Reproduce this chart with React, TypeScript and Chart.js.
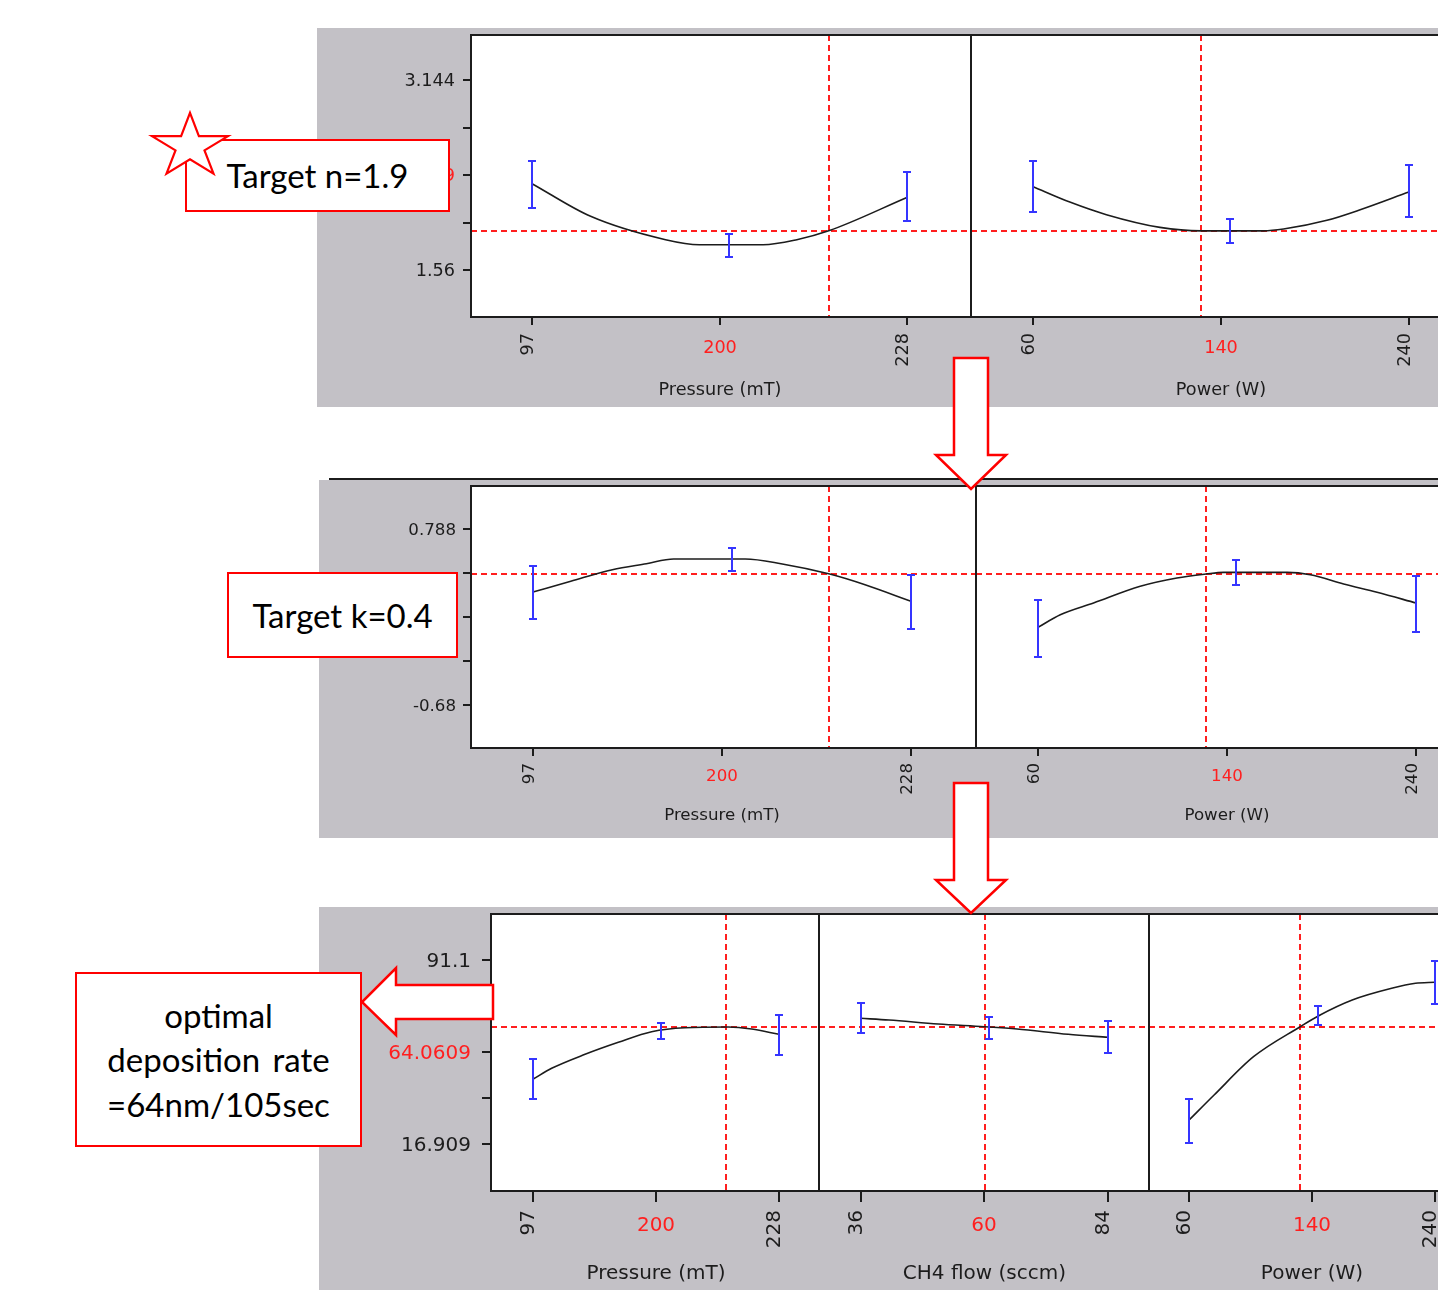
import React, { useEffect, useRef } from "react";
import { Chart, registerables } from "chart.js";
Chart.register(...registerables);

// ---------------- data (x in coded factor units: -1 = low, 0 = centre, 1 = high) ----------------
const pressureTicks = ["97", "200", "228"];
const powerTicks = ["60", "140", "240"];
const ch4Ticks = ["36", "60", "84"];

// Panel 1 : refractive index n
const nAxisLabels = ["3.144", "1.56"];
const nAxisTicks = [3.144, 2.748, 2.352, 1.956, 1.56];
const nPredicted = 1.889;
const nPredictedLabel = "1.8889";
const nPressX = [-1, -0.69, -0.29, -0.11, 0.23, 0.41, 0.58, 1];
const nPressY = [2.28, 2.01, 1.815, 1.773, 1.773, 1.815, 1.889, 2.169];
const nPressBarX = [-1, 0.05, 1];
const nPressBarLo = [2.077, 1.668, 1.973];
const nPressBarHi = [2.469, 1.863, 2.379];
const nPowerX = [-1, -0.805, -0.61, -0.325, -0.107, 0.226, 0.333, 0.564, 0.741, 1];
const nPowerY = [2.257, 2.129, 2.024, 1.918, 1.889, 1.889, 1.904, 1.977, 2.065, 2.213];
const nPowerBarX = [-1, 0.048, 1];
const nPowerBarLo = [2.049, 1.788, 2.004];
const nPowerBarHi = [2.469, 1.99, 2.438];

// Panel 2 : extinction coefficient k
const kAxisLabels = ["0.788", "-0.68"];
const kAxisTicks = [0.788, 0.421, 0.054, -0.313, -0.68];
const kPredicted = 0.413;
const kPredictedLabel = "0.4130";
const kPressX = [-1, -0.8, -0.58, -0.4, -0.256, 0.123, 0.312, 0.57, 0.757, 1];
const kPressY = [0.263, 0.353, 0.449, 0.499, 0.538, 0.538, 0.499, 0.413, 0.324, 0.186];
const kPressBarX = [-1, 0.051, 1];
const kPressBarLo = [0.041, 0.441, -0.042];
const kPressBarHi = [0.48, 0.627, 0.402];
const kPowerX = [-1, -0.882, -0.706, -0.459, -0.265, -0.111, -0.018, 0.318, 0.441, 0.617, 0.794, 1];
const kPowerY = [-0.031, 0.074, 0.172, 0.311, 0.38, 0.413, 0.427, 0.427, 0.407, 0.33, 0.261, 0.172];
const kPowerBarX = [-1, 0.046, 1];
const kPowerBarLo = [-0.28, 0.322, -0.067];
const kPowerBarHi = [0.199, 0.532, 0.399];

// Panel 3 : deposition rate
const rAxisLabels = ["91.1", "16.909"];
const rAxisTicks = [91.1, 72.55, 54.0, 35.45, 16.909];
const rPredicted = 64.06;
const rPredictedLabel = "64.0609";
const rPressX = [-1, -0.85, -0.578, -0.307, -0.036, 0.236, 0.589, 0.779, 1];
const rPressY = [43.19, 47.5, 53.14, 57.97, 62.24, 63.85, 64.13, 63.32, 61.19];
const rPressBarX = [-1, 0.04, 1];
const rPressBarLo = [35.02, 59.18, 52.98];
const rPressBarHi = [51.07, 65.62, 68.96];
const rCh4X = [-1, -0.771, -0.373, 0, 0.264, 0.678, 1];
const rCh4Y = [67.63, 66.95, 65.34, 64.25, 63.32, 61.19, 59.98];
const rCh4BarX = [-1, 0.041, 1];
const rCh4BarLo = [61.59, 59.3, 53.78];
const rCh4BarHi = [73.67, 68.03, 66.42];
const rPowerX = [-1, -0.797, -0.476, -0.096, 0.055, 0.328, 0.649, 0.843, 1];
const rPowerY = [26.69, 36.75, 52.17, 64.25, 68.68, 75.0, 79.71, 81.72, 82.12];
const rPowerBarX = [-1, 0.048, 1];
const rPowerBarLo = [17.55, 64.93, 73.51];
const rPowerBarHi = [35.02, 72.7, 90.82];

// current factor settings (coded)
const currentP1 = [0.58, -0.107];
const currentP2 = [0.568, -0.111];
const currentP3 = [0.567, 0.005, -0.096];

// ---------------- styling ----------------
const RED = "#ff1f1f";
const BLUE = "#3535ff";
const GRAY = "#c3c1c6";
const INK = "#1c1c1c";
const FONT = '"DejaVu Sans", Verdana, sans-serif';
const TY = 2; // vertical nudge for horizontal labels

const panels = [
  {
    bgX0: 317, bgY0: 28, bgY1: 407, top: 35, bottom: 317,
    yMin: 1.1707, yMax: 3.5217, yTicks: nAxisTicks, yLabels: nAxisLabels, predicted: nPredicted, predictedLabel: nPredictedLabel,
    font: 17, sx: 1.04, tickLen: 8, yTickLen: 8, rotTop: 333, midY: 347, titleY: 388.5, yLabelRight: 455,
    subs: [
      { L: 471, R: 971, xMin: -1.328, xMax: 1.339, cx: nPressX, cy: nPressY, bx: nPressBarX, lo: nPressBarLo, hi: nPressBarHi, ticks: pressureTicks, title: "Pressure (mT)", current: currentP1[0] },
      { L: 971, R: 1471, xMin: -1.331, xMax: 1.331, cx: nPowerX, cy: nPowerY, bx: nPowerBarX, lo: nPowerBarLo, hi: nPowerBarHi, ticks: powerTicks, title: "Power (W)", current: currentP1[1] },
    ],
  },
  {
    bgX0: 319, bgY0: 480, bgY1: 838, top: 486, bottom: 748,
    yMin: -1.0356, yMax: 1.146, yTicks: kAxisTicks, yLabels: kAxisLabels, predicted: kPredicted, predictedLabel: kPredictedLabel,
    font: 16, sx: 1.04, tickLen: 8, yTickLen: 8, rotTop: 763, midY: 775, titleY: 813.5, yLabelRight: 456,
    subs: [
      { L: 471, R: 976, xMin: -1.328, xMax: 1.344, cx: kPressX, cy: kPressY, bx: kPressBarX, lo: kPressBarLo, hi: kPressBarHi, ticks: pressureTicks, title: "Pressure (mT)", current: currentP2[0] },
      { L: 976, R: 1481, xMin: -1.328, xMax: 1.344, cx: kPowerX, cy: kPowerY, bx: kPowerBarX, lo: kPowerBarLo, hi: kPowerBarHi, ticks: powerTicks, title: "Power (W)", current: currentP2[1] },
    ],
  },
  {
    bgX0: 319, bgY0: 907, bgY1: 1290, top: 914, bottom: 1191,
    yMin: -1.89, yMax: 109.62, yTicks: rAxisTicks, yLabels: rAxisLabels, predicted: rPredicted, predictedLabel: rPredictedLabel,
    font: 20, sx: 1.0, tickLen: 11, yTickLen: 9, rotTop: 1210, midY: 1224, titleY: 1272, yLabelRight: 471,
    subs: [
      { L: 491, R: 819, xMin: -1.344, xMax: 1.327, cx: rPressX, cy: rPressY, bx: rPressBarX, lo: rPressBarLo, hi: rPressBarHi, ticks: pressureTicks, title: "Pressure (mT)", current: currentP3[0] },
      { L: 819, R: 1149, xMin: -1.337, xMax: 1.331, cx: rCh4X, cy: rCh4Y, bx: rCh4BarX, lo: rCh4BarLo, hi: rCh4BarHi, ticks: ch4Ticks, title: "CH4 flow (sccm)", current: currentP3[1] },
      { L: 1149, R: 1479, xMin: -1.327, xMax: 1.36, cx: rPowerX, cy: rPowerY, bx: rPowerBarX, lo: rPowerBarLo, hi: rPowerBarHi, ticks: powerTicks, title: "Power (W)", current: currentP3[2] },
    ],
  },
];

function drawText(ctx: any, s: string, x: number, y: number, size: number, sx: number, color: string, align: string, baseline: string, rot = 0) {
  ctx.save();
  ctx.translate(x, y);
  if (rot) ctx.rotate(rot);
  ctx.scale(sx, 1);
  ctx.font = `${size}px ${FONT}`;
  ctx.fillStyle = color;
  ctx.textAlign = align;
  ctx.textBaseline = baseline;
  ctx.fillText(s, 0, 0);
  ctx.restore();
}

function SubplotCanvas({ panel, sub, first }: any) {
  const ref = useRef<HTMLCanvasElement>(null);
  const ox = first ? panel.bgX0 : sub.L - 3;
  const oy = panel.top - 3;
  const W = sub.R + 3 - ox;
  const H = panel.bgY1 - oy;

  useEffect(() => {
    const canvas = ref.current;
    if (!canvas) return;
    const plugin = {
      id: "profiler",
      beforeDatasetsDraw(chart: any) {
        const { ctx, chartArea: a, scales } = chart;
        ctx.save();
        ctx.fillStyle = "#ffffff";
        ctx.fillRect(a.left, a.top, a.right - a.left, a.bottom - a.top);
        ctx.strokeStyle = RED;
        ctx.lineWidth = 2;
        ctx.setLineDash([6, 4]);
        const hy = Math.round(scales.y.getPixelForValue(panel.predicted));
        ctx.beginPath();
        ctx.moveTo(a.left, hy);
        ctx.lineTo(a.right, hy);
        ctx.stroke();
        const vx = Math.round(scales.x.getPixelForValue(sub.current));
        ctx.beginPath();
        ctx.moveTo(vx, a.top);
        ctx.lineTo(vx, a.bottom);
        ctx.stroke();
        ctx.restore();
      },
      afterDatasetsDraw(chart: any) {
        const { ctx, chartArea: a, scales } = chart;
        const xs = scales.x;
        const ys = scales.y;
        ctx.save();
        ctx.setLineDash([]);
        // error bars
        ctx.strokeStyle = BLUE;
        ctx.lineWidth = 2;
        sub.bx.forEach((bx: number, i: number) => {
          const px = Math.round(xs.getPixelForValue(bx));
          const p1 = Math.round(ys.getPixelForValue(sub.hi[i]));
          const p2 = Math.round(ys.getPixelForValue(sub.lo[i]));
          ctx.beginPath();
          ctx.moveTo(px, p1);
          ctx.lineTo(px, p2);
          ctx.moveTo(px - 4, p1);
          ctx.lineTo(px + 4, p1);
          ctx.moveTo(px - 4, p2);
          ctx.lineTo(px + 4, p2);
          ctx.stroke();
        });
        // frame
        ctx.strokeStyle = INK;
        ctx.lineWidth = 2;
        ctx.strokeRect(a.left, a.top, a.right - a.left, a.bottom - a.top);
        // x ticks + labels
        [-1, 0, 1].forEach((v, i) => {
          const px = Math.round(xs.getPixelForValue(v));
          ctx.beginPath();
          ctx.moveTo(px, a.bottom);
          ctx.lineTo(px, a.bottom + panel.tickLen);
          ctx.stroke();
          if (i === 1) {
            drawText(ctx, sub.ticks[i], px, panel.midY - oy + TY, panel.font, panel.sx, RED, "center", "middle");
          } else {
            drawText(ctx, sub.ticks[i], px + 1, panel.rotTop - oy, panel.font, panel.sx, INK, "right", "alphabetic", -Math.PI / 2);
          }
        });
        drawText(ctx, sub.title, xs.getPixelForValue(0), panel.titleY - oy + TY, panel.font, panel.sx, INK, "center", "middle");
        // y axis
        if (first) {
          panel.yTicks.forEach((t: number, j: number) => {
            const py = Math.round(ys.getPixelForValue(t));
            ctx.beginPath();
            ctx.moveTo(a.left - panel.yTickLen, py);
            ctx.lineTo(a.left, py);
            ctx.stroke();
            const lx = panel.yLabelRight - ox;
            if (j === 0) drawText(ctx, panel.yLabels[0], lx, py + TY, panel.font, panel.sx, INK, "right", "middle");
            if (j === 2) drawText(ctx, panel.predictedLabel, lx, py + TY, panel.font, panel.sx, RED, "right", "middle");
            if (j === 4) drawText(ctx, panel.yLabels[1], lx, py + TY, panel.font, panel.sx, INK, "right", "middle");
          });
        }
        ctx.restore();
      },
    };
    const chart = new Chart(canvas, {
      type: "line",
      data: {
        datasets: [
          {
            data: sub.cx.map((x: number, i: number) => ({ x, y: sub.cy[i] })),
            borderColor: INK,
            borderWidth: 1.6,
            pointRadius: 0,
            cubicInterpolationMode: "monotone",
            fill: false,
          },
        ],
      },
      options: {
        animation: false,
        responsive: false,
        devicePixelRatio: 1,
        events: [],
        layout: {
          padding: { left: sub.L - ox, right: ox + W - sub.R, top: panel.top - oy, bottom: oy + H - panel.bottom },
        },
        plugins: { legend: { display: false }, tooltip: { enabled: false } },
        scales: {
          x: { type: "linear", display: false, min: sub.xMin, max: sub.xMax },
          y: { type: "linear", display: false, min: panel.yMin, max: panel.yMax },
        },
      },
      plugins: [plugin],
    } as any);
    return () => chart.destroy();
  }, []);

  return (
    <canvas
      ref={ref}
      width={W}
      height={H}
      style={{ position: "absolute", left: ox, top: oy, width: W, height: H }}
    />
  );
}

function starPoints(cx: number, cy: number, rx: number, ry: number, inner: number) {
  const pts: string[] = [];
  for (let k = 0; k < 10; k++) {
    const ang = (-90 + 36 * k) * (Math.PI / 180);
    const f = k % 2 === 0 ? 1 : inner;
    pts.push(`${(cx + Math.cos(ang) * rx * f).toFixed(1)},${(cy + Math.sin(ang) * ry * f).toFixed(1)}`);
  }
  return pts.join(" ");
}

const calloutFont = 'Lato, "Open Sans", "Noto Sans", sans-serif';

function boxStyle(l: number, t: number, w: number, h: number): any {
  return {
    position: "absolute",
    left: l,
    top: t,
    width: w,
    height: h,
    boxSizing: "border-box",
    border: "2px solid #ff0000",
    background: "#ffffff",
    display: "flex",
    flexDirection: "column",
    alignItems: "center",
    justifyContent: "center",
    textAlign: "center",
    fontFamily: calloutFont,
    fontSize: 33,
    color: "#000",
    lineHeight: "44.5px",
  };
}

export default function App() {
  return (
    <div style={{ position: "fixed", left: 0, top: 0, width: 1438, height: 1290, overflow: "hidden", background: "#fff" }}>
      {panels.map((p, pi) => (
        <React.Fragment key={pi}>
          <div style={{ position: "absolute", left: p.bgX0, top: p.bgY0, width: 1438 - p.bgX0, height: p.bgY1 - p.bgY0, background: GRAY }} />
          {p.subs.map((s, si) => (
            <SubplotCanvas key={si} panel={p} sub={s} first={si === 0} />
          ))}
        </React.Fragment>
      ))}
      <div style={{ position: "absolute", left: 329, top: 478, width: 1438 - 329, height: 2, background: INK }} />

      <div style={boxStyle(185, 139, 265, 73)}>Target n=1.9</div>
      <div style={boxStyle(227, 572, 231, 86)}>Target k=0.4</div>
      <div style={boxStyle(75, 972, 287, 175)}>
        <div>optimal</div>
        <div style={{ wordSpacing: "4px" }}>deposition rate</div>
        <div>=64nm/105sec</div>
      </div>

      <svg width={1438} height={1290} style={{ position: "absolute", left: 0, top: 0, pointerEvents: "none" }}>
        <polygon points={starPoints(190, 146.5, 40, 33.6, 0.38)} fill="#fff" stroke="#ff0000" strokeWidth={2.2} />
        <polygon points="954,358 988,358 988,455 1006,455 971,489 936,455 954,455" fill="#fff" stroke="#ff0000" strokeWidth={2.5} />
        <polygon points="954,783 988,783 988,880 1006,880 971,913 936,880 954,880" fill="#fff" stroke="#ff0000" strokeWidth={2.5} />
        <polygon points="493,985 396,985 396,968 362,1002 396,1035 396,1019 493,1019" fill="#fff" stroke="#ff0000" strokeWidth={2.5} />
      </svg>
    </div>
  );
}
